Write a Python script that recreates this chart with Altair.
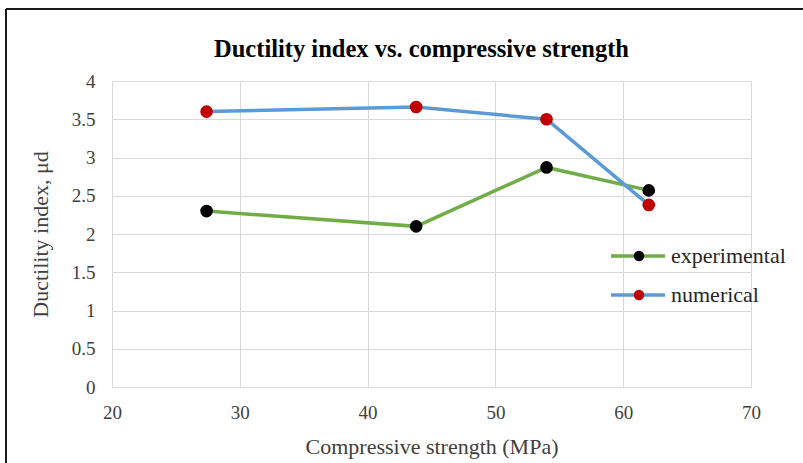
import altair as alt
import pandas as pd

# ---- data ----
strength = [27.4, 43.8, 54.0, 62.0]
mu_experimental = [2.30, 2.10, 2.87, 2.57]
mu_numerical = [3.60, 3.66, 3.50, 2.38]
series_names = ["experimental", "numerical"]
line_colors = ["#70AD47", "#5B9BD5"]
point_colors = ["#000000", "#C00000"]
x_ticks = [20, 30, 40, 50, 60, 70]
y_ticks = [0, 0.5, 1, 1.5, 2, 2.5, 3, 3.5, 4]

rows = []
for s, vals in zip(series_names, [mu_experimental, mu_numerical]):
    for xv, yv in zip(strength, vals):
        rows.append({"strength": xv, "mu": yv, "series": s})
df = pd.DataFrame(rows)

FONT = "Liberation Serif"

x_enc = alt.X("strength:Q",
              scale=alt.Scale(domain=[20, 70], nice=False, zero=False),
              axis=alt.Axis(values=x_ticks, title="Compressive strength (MPa)",
                            grid=True, gridColor="#D9D9D9", gridWidth=1,
                            domain=False, ticks=False, labelOverlap=False,
                            labelFlush=False,
                            labelFont=FONT, labelFontSize=19, labelColor="#404040",
                            labelPadding=16,
                            titleFont=FONT, titleFontSize=22, titleFontWeight="normal",
                            titleColor="#404040", titlePadding=14))
y_enc = alt.Y("mu:Q",
              scale=alt.Scale(domain=[0, 4], nice=False),
              axis=alt.Axis(values=y_ticks, title="Ductility index, μd",
                            format="~g", labelOverlap=False, labelFlush=False,
                            grid=True, gridColor="#D9D9D9", gridWidth=1,
                            domain=False, ticks=False,
                            labelFont=FONT, labelFontSize=19, labelColor="#404040",
                            labelPadding=17,
                            titleFont=FONT, titleFontSize=22, titleFontWeight="normal",
                            titleColor="#404040", titlePadding=19))

lines = alt.Chart(df).mark_line(strokeWidth=3.5).encode(
    x=x_enc, y=y_enc,
    stroke=alt.Stroke("series:N",
                      scale=alt.Scale(domain=series_names, range=line_colors),
                      legend=alt.Legend(title=None, orient="none",
                                        legendX=497, legendY=164,
                                        symbolType="stroke", symbolSize=2916,
                                        symbolStrokeWidth=3.5,
                                        clipHeight=22, rowPadding=17,
                                        labelFont=FONT, labelFontSize=22,
                                        labelColor="#262626", labelOffset=4,
                                        padding=0, zindex=1)),
)

points = alt.Chart(df).mark_circle(size=160, opacity=1).encode(
    x=x_enc, y=y_enc,
    fill=alt.Fill("series:N",
                  scale=alt.Scale(domain=series_names, range=point_colors),
                  legend=alt.Legend(title=None, orient="none",
                                    legendX=497, legendY=164,
                                    symbolType="circle", symbolSize=110,
                                    symbolOpacity=1, symbolStrokeWidth=0,
                                    clipHeight=22, rowPadding=17,
                                    symbolOffset=19,
                                    labelFont=FONT, labelFontSize=22,
                                    labelExpr="''", labelOffset=4,
                                    padding=0, zindex=2)),
)

frame_data = alt.Data(values=[{"k": 1}])
frame_left = alt.Chart(frame_data).mark_rule(color="#1a1a1a", strokeWidth=2).encode(
    x=alt.value(-106), y=alt.value(-72), y2=alt.value(400))
frame_top = alt.Chart(frame_data).mark_rule(color="#1a1a1a", strokeWidth=2).encode(
    x=alt.value(-106), x2=alt.value(720), y=alt.value(-72))

chart = alt.layer(lines, points, frame_left, frame_top).properties(
    width=639, height=306,
    padding={"left": 112, "top": 81, "right": 52, "bottom": 76},
    autosize=alt.AutoSizeParams(type="none"),
    background="white",
    title=alt.TitleParams("Ductility index vs. compressive strength",
                          font=FONT, fontSize=24.5, fontWeight="bold",
                          color="#000000", anchor="middle", frame="group",
                          baseline="alphabetic", offset=23, dx=-10, dy=96),
).resolve_scale(fill="independent", stroke="independent").configure_view(stroke=None)

chart.save("out.html", embed_options={"renderer": "svg", "actions": False})
